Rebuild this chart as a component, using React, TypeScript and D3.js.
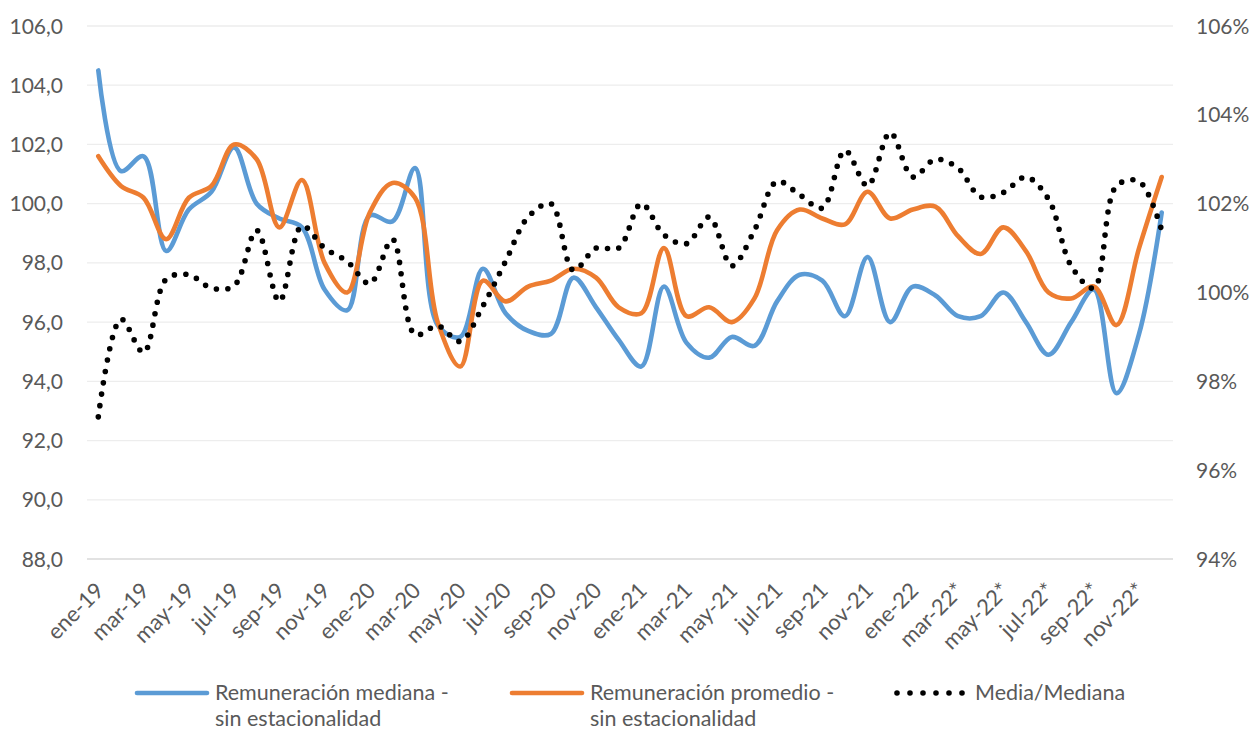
import React, { useEffect, useRef } from 'react';
import * as d3 from 'd3';

const categories = [
  'ene-19', 'feb-19', 'mar-19', 'abr-19', 'may-19', 'jun-19', 'jul-19', 'ago-19', 'sep-19', 'oct-19', 'nov-19', 'dic-19',
  'ene-20', 'feb-20', 'mar-20', 'abr-20', 'may-20', 'jun-20', 'jul-20', 'ago-20', 'sep-20', 'oct-20', 'nov-20', 'dic-20',
  'ene-21', 'feb-21', 'mar-21', 'abr-21', 'may-21', 'jun-21', 'jul-21', 'ago-21', 'sep-21', 'oct-21', 'nov-21', 'dic-21',
  'ene-22', 'feb-22*', 'mar-22*', 'abr-22*', 'may-22*', 'jun-22*', 'jul-22*', 'ago-22*', 'sep-22*', 'oct-22*', 'nov-22*', 'dic-22*',
];

// Remuneración mediana - sin estacionalidad (eje izquierdo)
const mediana = [
  104.5, 101.1, 101.6, 98.4, 99.8, 100.4, 101.9, 100.0, 99.5, 99.2, 97.1, 96.4,
  99.6, 99.4, 101.2, 95.9, 95.5, 97.8, 96.3, 95.7, 95.6, 97.5, 96.5, 95.4,
  94.5, 97.2, 95.3, 94.8, 95.5, 95.2, 96.7, 97.6, 97.4, 96.2, 98.2, 96.0,
  97.2, 96.9, 96.2, 96.2, 97.0, 96.0, 94.9, 96.0, 97.1, 93.6, 95.6, 99.7,
];

// Remuneración promedio - sin estacionalidad (eje izquierdo)
const promedio = [
  101.6, 100.6, 100.2, 98.8, 100.2, 100.6, 102.0, 101.5, 99.2, 100.8, 98.0, 97.0,
  99.7, 100.7, 100.2, 96.0, 94.5, 97.4, 96.7, 97.2, 97.4, 97.8, 97.5, 96.5,
  96.3, 98.5, 96.2, 96.5, 96.0, 96.8, 99.1, 99.8, 99.5, 99.3, 100.4, 99.5,
  99.8, 99.9, 98.9, 98.3, 99.2, 98.4, 97.0, 96.8, 97.2, 95.9, 98.5, 100.9,
];

// Media/Mediana en % (eje derecho)
const ratio = [
  97.2, 99.4, 98.65, 100.3, 100.4, 100.1, 100.15, 101.4, 99.8, 101.5, 101.0, 100.7,
  100.2, 101.2, 99.05, 99.25, 98.9, 99.7, 100.7, 101.7, 102.0, 100.5, 101.0, 101.0,
  102.0, 101.3, 101.1, 101.7, 100.6, 101.4, 102.5, 102.2, 101.9, 103.2, 102.4, 103.6,
  102.6, 103.0, 102.8, 102.15, 102.25, 102.6, 102.1, 100.6, 100.1, 102.4, 102.5, 101.4,
];

const leftTicks = [88, 90, 92, 94, 96, 98, 100, 102, 104, 106];
const rightTicks = [94, 96, 98, 100, 102, 104, 106];

const FONT = 'Lato, "Open Sans", sans-serif';
const TEXT = '#595959';

const App = () => {
  const svgRef = useRef<SVGSVGElement>(null);

  const width = 1252;
  const height = 733;
  const plot = { left: 87, right: 1173, top: 26, bottom: 559 };

  useEffect(() => {
    const svg = d3.select(svgRef.current);
    svg.selectAll('*').remove();

    const x = d3.scaleBand<string>().domain(categories).range([plot.left, plot.right]);
    const xc = (c: string) => (x(c) as number) + x.bandwidth() / 2;
    const yL = d3.scaleLinear().domain([88, 106]).range([plot.bottom, plot.top]);
    const yR = d3.scaleLinear().domain([94, 106]).range([plot.bottom, plot.top]);

    // gridlines
    svg.append('g')
      .selectAll('line')
      .data(leftTicks)
      .join('line')
      .attr('x1', plot.left)
      .attr('x2', plot.right)
      .attr('y1', d => yL(d))
      .attr('y2', d => yL(d))
      .attr('stroke', d => (d === 88 ? '#d9d9d9' : '#ededed'))
      .attr('stroke-width', 1.3);

    // left axis labels
    svg.append('g')
      .selectAll('text')
      .data(leftTicks)
      .join('text')
      .attr('x', 63)
      .attr('y', d => yL(d))
      .attr('dy', '0.36em')
      .attr('text-anchor', 'end')
      .attr('font-family', FONT)
      .attr('font-size', 21)
      .attr('fill', TEXT)
      .text(d => d3.format('.1f')(d).replace('.', ','));

    // right axis labels
    svg.append('g')
      .selectAll('text')
      .data(rightTicks)
      .join('text')
      .attr('x', 1196)
      .attr('y', d => yR(d))
      .attr('dy', '0.36em')
      .attr('text-anchor', 'start')
      .attr('font-family', FONT)
      .attr('font-size', 21)
      .attr('fill', TEXT)
      .text(d => `${d}%`);

    // x labels, every other month
    svg.append('g')
      .selectAll('text')
      .data(categories.filter((_, i) => i % 2 === 0))
      .join('text')
      .attr('transform', d => `translate(${xc(d) + 7},${592}) rotate(-45)`)
      .attr('text-anchor', 'end')
      .attr('font-family', FONT)
      .attr('font-size', 22)
      .attr('fill', TEXT)
      .text(d => d);

    const curve = d3.curveCatmullRom.alpha(0.5);

    const lineL = d3.line<number>()
      .x((_, i) => xc(categories[i]))
      .y(d => yL(d))
      .curve(curve);

    const lineR = d3.line<number>()
      .x((_, i) => xc(categories[i]))
      .y(d => yR(d))
      .curve(curve);

    svg.append('path')
      .attr('d', lineL(mediana))
      .attr('fill', 'none')
      .attr('stroke', '#5b9bd5')
      .attr('stroke-width', 4.6)
      .attr('stroke-linecap', 'round')
      .attr('stroke-linejoin', 'round');

    svg.append('path')
      .attr('d', lineL(promedio))
      .attr('fill', 'none')
      .attr('stroke', '#ed7d31')
      .attr('stroke-width', 4.6)
      .attr('stroke-linecap', 'round')
      .attr('stroke-linejoin', 'round');

    svg.append('path')
      .attr('d', lineR(ratio))
      .attr('fill', 'none')
      .attr('stroke', '#000')
      .attr('stroke-width', 5.6)
      .attr('stroke-linecap', 'round')
      .attr('stroke-dasharray', '0 11.5');

    // legend
    const legend = [
      { x: 137, label: ['Remuneración mediana -', 'sin estacionalidad'], color: '#5b9bd5', dash: null },
      { x: 512, label: ['Remuneración promedio -', 'sin estacionalidad'], color: '#ed7d31', dash: null },
      { x: 897, label: ['Media/Mediana'], color: '#000', dash: '0 13' },
    ];

    const lg = svg.append('g').selectAll('g').data(legend).join('g');

    lg.append('line')
      .attr('x1', d => d.x)
      .attr('x2', d => d.x + (d.dash ? 66 : 70))
      .attr('y1', 693)
      .attr('y2', 693)
      .attr('stroke', d => d.color)
      .attr('stroke-width', d => (d.dash ? 5.6 : 4.6))
      .attr('stroke-linecap', 'round')
      .attr('stroke-dasharray', d => d.dash);

    lg.append('text')
      .attr('x', d => d.x + 78)
      .attr('y', 700)
      .attr('font-family', FONT)
      .attr('font-size', 21.5)
      .attr('fill', TEXT)
      .selectAll('tspan')
      .data(d => d.label.map((t, i) => ({ t, i, x: d.x + 78 })))
      .join('tspan')
      .attr('x', d => d.x)
      .attr('dy', d => (d.i === 0 ? 0 : 26))
      .text(d => d.t);
  }, []);

  return (
    <svg
      ref={svgRef}
      width={width}
      height={height}
      style={{ position: 'absolute', left: 0, top: 0, background: '#fff' }}
    />
  );
};

export default App;
